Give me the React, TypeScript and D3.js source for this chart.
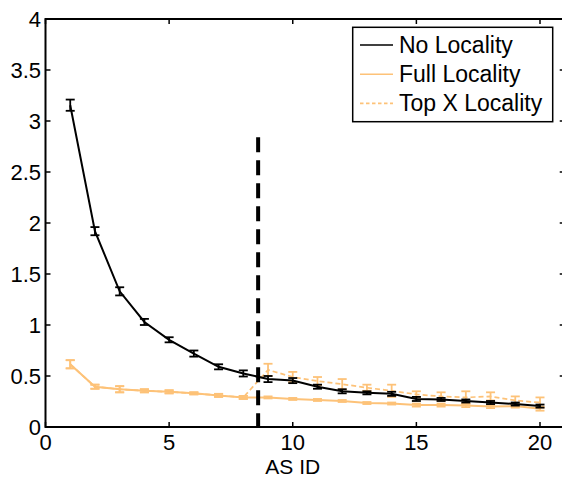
import React, { useEffect, useRef } from "react"
import * as d3 from "d3"

// AS ids 1..20
const asIds = [1, 2, 3, 4, 5, 6, 7, 8, 9, 10, 11, 12, 13, 14, 15, 16, 17, 18, 19, 20]

const noLocality = [3.155, 1.92, 1.33, 1.03, 0.855, 0.72, 0.59, 0.525, 0.47, 0.455, 0.395, 0.35, 0.335, 0.325, 0.275, 0.27, 0.255, 0.24, 0.225, 0.205]
const noLocalityErr = [0.055, 0.04, 0.04, 0.03, 0.025, 0.03, 0.025, 0.03, 0.03, 0.025, 0.02, 0.02, 0.015, 0.02, 0.02, 0.015, 0.015, 0.015, 0.015, 0.015]

const fullLocality = [0.615, 0.395, 0.37, 0.355, 0.345, 0.33, 0.31, 0.29, 0.29, 0.275, 0.265, 0.255, 0.235, 0.23, 0.215, 0.215, 0.21, 0.2, 0.205, 0.18]
const fullLocalityErr = [0.04, 0.02, 0.03, 0.015, 0.015, 0.01, 0.015, 0.015, 0.01, 0.01, 0.01, 0.01, 0.01, 0.01, 0.015, 0.015, 0.015, 0.015, 0.015, 0.02]

const topXLocality = [0.615, 0.395, 0.37, 0.355, 0.345, 0.33, 0.31, 0.29, 0.56, 0.49, 0.45, 0.42, 0.385, 0.355, 0.32, 0.3, 0.29, 0.3, 0.26, 0.24]
const topXLocalityErr = [0.04, 0.02, 0.03, 0.015, 0.015, 0.01, 0.015, 0.015, 0.06, 0.05, 0.04, 0.05, 0.03, 0.06, 0.03, 0.04, 0.06, 0.04, 0.04, 0.05]

// vertical divider
const cutX = 8.6
const cutTop = 2.84

const xTicks = [0, 5, 10, 15, 20]
const yTicks = [0, 0.5, 1, 1.5, 2, 2.5, 3, 3.5, 4]
const legendNames = ["No Locality", "Full Locality", "Top X Locality"]

export default function App() {
  const ref = useRef<SVGSVGElement>(null)

  useEffect(() => {
    var width = 562,
      height = 479
    var left = 45.5,
      top = 19,
      bottom = 427
    var orange = "#fdc278"
    var font = "'Liberation Sans', Arial, Helvetica, sans-serif"

    var x = d3.scaleLinear().domain([0, 20]).range([left, 540])
    var y = d3.scaleLinear().domain([0, 4]).range([bottom, top])
    var right = x(21)

    var svg = d3.select(ref.current)
    svg.selectAll("*").remove()
    svg.attr("width", width).attr("height", height)

    svg.append("rect").attr("width", width).attr("height", height).attr("fill", "white")

    var series = [
      { vals: noLocality, errs: noLocalityErr, color: "black", dash: null, w: 2 },
      { vals: fullLocality, errs: fullLocalityErr, color: orange, dash: null, w: 2 },
      { vals: topXLocality, errs: topXLocalityErr, color: orange, dash: "5 3", w: 1.7 },
    ]

    var line = d3
      .line<number>()
      .x((d, i) => x(asIds[i]))
      .y(d => y(d))

    // draw in reverse so black sits on top
    series
      .slice()
      .reverse()
      .forEach(s => {
        var g = svg.append("g")
        g.append("path")
          .attr("d", line(s.vals))
          .attr("fill", "none")
          .attr("stroke", s.color)
          .attr("stroke-width", s.w)
          .attr("stroke-dasharray", s.dash)
        var cap = 4.5
        s.vals.forEach((v, i) => {
          var cx = x(asIds[i])
          var y0 = y(v - s.errs[i]),
            y1 = y(v + s.errs[i])
          g.append("line").attr("x1", cx).attr("x2", cx).attr("y1", y0).attr("y2", y1)
            .attr("stroke", s.color).attr("stroke-width", 1.8)
          ;[y0, y1].forEach(yy => {
            g.append("line").attr("x1", cx - cap).attr("x2", cx + cap).attr("y1", yy).attr("y2", yy)
              .attr("stroke", s.color).attr("stroke-width", 1.8)
          })
        })
      })

    // dashed divider
    svg.append("line")
      .attr("x1", x(cutX)).attr("x2", x(cutX))
      .attr("y1", y(cutTop)).attr("y2", y(0))
      .attr("stroke", "black").attr("stroke-width", 4)
      .attr("stroke-dasharray", "15 8")

    // axes box
    svg.append("rect")
      .attr("x", left).attr("y", top)
      .attr("width", right - left).attr("height", bottom - top)
      .attr("fill", "none").attr("stroke", "black").attr("stroke-width", 2)

    var tl = 5
    xTicks.forEach(t => {
      svg.append("line").attr("x1", x(t)).attr("x2", x(t)).attr("y1", bottom).attr("y2", bottom - tl).attr("stroke", "black").attr("stroke-width", 1.5)
      svg.append("line").attr("x1", x(t)).attr("x2", x(t)).attr("y1", top).attr("y2", top + tl).attr("stroke", "black").attr("stroke-width", 1.5)
      svg.append("text").attr("x", x(t)).attr("y", 450).attr("text-anchor", "middle")
        .attr("font-family", font).attr("font-size", 22).text(t)
    })
    yTicks.forEach(t => {
      svg.append("line").attr("x1", left).attr("x2", left + tl).attr("y1", y(t)).attr("y2", y(t)).attr("stroke", "black").attr("stroke-width", 1.5)
      svg.append("line").attr("x1", right).attr("x2", right - tl).attr("y1", y(t)).attr("y2", y(t)).attr("stroke", "black").attr("stroke-width", 1.5)
      svg.append("text").attr("x", 41).attr("y", y(t) + 8).attr("text-anchor", "end")
        .attr("font-family", font).attr("font-size", 22).text(t)
    })

    svg.append("text").attr("x", x(10)).attr("y", 474).attr("text-anchor", "middle")
      .attr("font-family", font).attr("font-size", 21).text("AS ID")

    // legend
    var lg = svg.append("g")
    lg.append("rect").attr("x", 352.7).attr("y", 27.3).attr("width", 200).attr("height", 94.4)
      .attr("fill", "white").attr("stroke", "black").attr("stroke-width", 1.5)
    legendNames.forEach((name, i) => {
      var ly = 45 + i * 29.2
      var s = series[i]
      lg.append("line").attr("x1", 360).attr("x2", 393).attr("y1", ly).attr("y2", ly)
        .attr("stroke", s.color).attr("stroke-width", 1.6).attr("stroke-dasharray", s.dash ? "3.5 2.5" : null)
      lg.append("text").attr("x", 399).attr("y", ly + 8).attr("font-family", font).attr("font-size", 23).text(name)
    })
  }, [])

  return (
    <div style={{ position: "absolute", left: 0, top: 0 }}>
      <svg ref={ref} style={{ display: "block" }} />
    </div>
  )
}
